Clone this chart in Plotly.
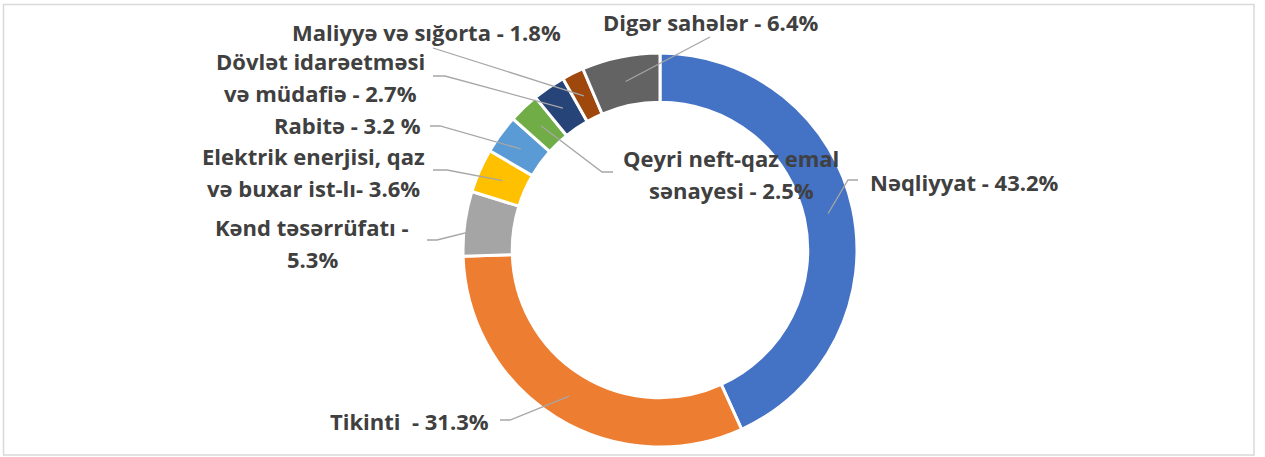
import math
import plotly.graph_objects as go

W, H = 1265, 457

# --- data ---
sectors = [
    "Nəqliyyat",
    "Tikinti",
    "Kənd təsərrüfatı",
    "Elektrik enerjisi, qaz və buxar ist-lı",
    "Rabitə",
    "Qeyri neft-qaz emal sənayesi",
    "Dövlət idarəetməsi və müdafiə",
    "Maliyyə və sığorta",
    "Digər sahələr",
]
shares = [43.2, 31.3, 5.3, 3.6, 3.2, 2.5, 2.7, 1.8, 6.4]
label_lines = [
    ["Nəqliyyat - 43.2%"],
    ["Tikinti  - 31.3%"],
    ["Kənd təsərrüfatı -", "5.3%"],
    ["Elektrik enerjisi, qaz", "və buxar ist-lı- 3.6%"],
    ["Rabitə - 3.2 %"],
    ["Qeyri neft-qaz emal", "sənayesi - 2.5%"],
    ["Dövlət idarəetməsi", "və müdafiə - 2.7%"],
    ["Maliyyə və sığorta - 1.8%"],
    ["Digər sahələr - 6.4%"],
]
colors = ["#4472C4", "#ED7D31", "#A5A5A5", "#FFC000", "#5B9BD5",
          "#70AD47", "#264478", "#9E480E", "#636363"]

# --- layout of labels (pixels) ---
CX, CY, R = 660, 250, 197
R_LEADER = 172
label_pos = [
    (868, 182, "left"),
    (409, 421, "center"),
    (312, 227, "center"),
    (313, 156, "center"),
    (347, 125, "center"),
    (731, 158, "center"),
    (320, 61, "center"),
    (426, 32, "center"),
    (710, 22, "center"),
]
LINE_GAP = 32
leader_start = [
    [(858, 180), (848, 180)],
    [(500, 420), (510, 420)],
    [(427, 240), (437, 240)],
    [(433, 170), (447, 170)],
    [(430, 126), (440, 126)],
    [(613, 172), (602, 172)],
    [(433, 76), (445, 76)],
    [(433, 48)],
    [(710, 37)],
]


def px(x):
    return x / W


def py(y):
    return 1 - y / H


fig = go.Figure(
    go.Pie(
        labels=sectors,
        values=shares,
        sort=False,
        direction="clockwise",
        rotation=0,
        hole=0.75,
        textinfo="none",
        marker=dict(colors=colors, line=dict(color="white", width=3)),
        domain=dict(x=[px(CX - R), px(CX + R)], y=[py(CY + R), py(CY - R)]),
        showlegend=False,
    )
)

annotations = []
shapes = []
total = sum(shares)
cum = 0
for i, v in enumerate(shares):
    mid = (cum + v / 2) / total * 2 * math.pi
    cum += v
    ex = CX + R_LEADER * math.sin(mid)
    ey = CY - R_LEADER * math.cos(mid)
    pts = leader_start[i] + [(ex, ey)]
    path = "M " + " L ".join(f"{px(a):.5f},{py(b):.5f}" for a, b in pts)
    shapes.append(dict(type="path", xref="paper", yref="paper", path=path,
                       line=dict(color="#A6A6A6", width=1.3)))
    x0, y0, anchor = label_pos[i]
    for j, t in enumerate(label_lines[i]):
        annotations.append(dict(
            text=f"<b>{t}</b>", x=px(x0), y=py(y0 + j * LINE_GAP),
            xref="paper", yref="paper", xanchor=anchor, yanchor="middle",
            showarrow=False,
            font=dict(size=22, color="#404040", family="Open Sans"),
        ))

shapes.append(dict(type="rect", xref="paper", yref="paper",
                   x0=px(3.5), x1=px(1254), y0=py(455), y1=py(4.5),
                   line=dict(color="#D9D9D9", width=1.5), layer="below"))

fig.update_layout(
    width=W, height=H,
    margin=dict(l=0, r=0, t=0, b=0),
    paper_bgcolor="white",
    plot_bgcolor="white",
    annotations=annotations,
    shapes=shapes,
)

fig.write_html("out.html", config={"displayModeBar": False},
               post_script="document.body.style.margin='0';")
